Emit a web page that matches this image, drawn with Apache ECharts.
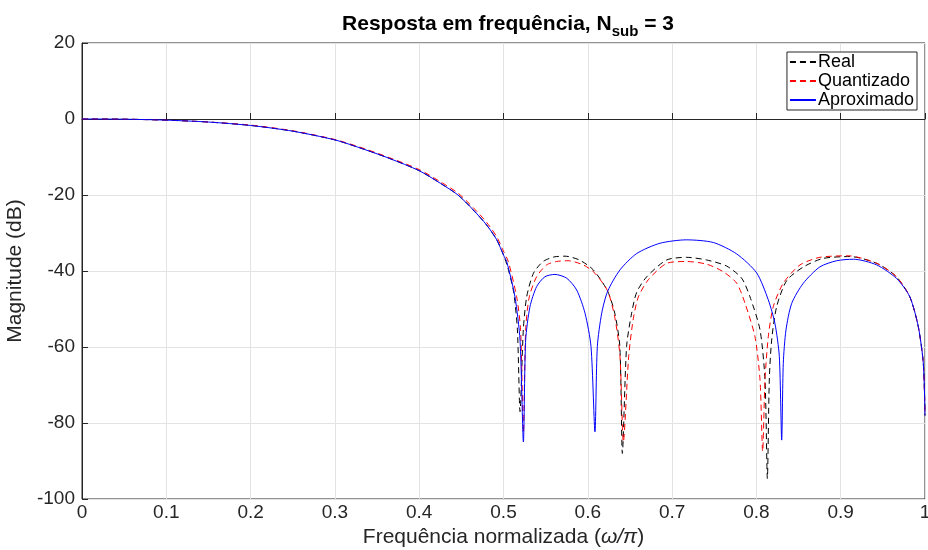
<!DOCTYPE html>
<html>
<head>
<meta charset="utf-8">
<script src="https://cdn.jsdelivr.net/npm/echarts@6/dist/echarts.min.js"></script>
<style>
  html, body { margin: 0; padding: 0; background: #fff; }
  #chart { width: 928px; height: 550px; }
</style>
</head>
<body>
<div id="chart"></div>
<script>
// eixo x: frequencia normalizada (w/pi), eixo y: magnitude em dB
const freqReal = [0, 0.05, 0.1, 0.15, 0.2, 0.25, 0.3, 0.335, 0.365, 0.4, 0.425, 0.446, 0.464, 0.48, 0.492, 0.5, 0.505, 0.512, 0.5165, 0.5196, 0.5235, 0.5275, 0.5355, 0.547, 0.56, 0.573, 0.59, 0.6065, 0.6235, 0.632, 0.638, 0.641, 0.646, 0.652, 0.658, 0.67, 0.6935, 0.717, 0.741, 0.7647, 0.7825, 0.7924, 0.8043, 0.8102, 0.813, 0.8153, 0.8181, 0.824, 0.836, 0.856, 0.879, 0.911, 0.943, 0.966, 0.982, 0.992, 0.998, 1.0];
const magReal = [0, -0.05, -0.3, -0.8, -1.7, -3.2, -5.5, -8.0, -10.4, -13.6, -16.9, -20.0, -23.9, -27.9, -31.8, -35.8, -39, -45.5, -55.5, -77, -55.5, -46.8, -40.6, -37.5, -36.3, -36.1, -37.1, -39.7, -45.3, -51.1, -59.9, -88, -59.9, -51.1, -45.6, -41.5, -37.1, -36.4, -37.1, -38.7, -41.9, -46.8, -55.5, -68.7, -94.6, -68.7, -58.2, -49.4, -42.5, -38.9, -36.7, -36.2, -38, -41.5, -46.8, -54.6, -64.3, -78];

const freqQuant = [0, 0.05, 0.1, 0.15, 0.2, 0.25, 0.3, 0.335, 0.365, 0.4, 0.425, 0.446, 0.464, 0.48, 0.492, 0.5, 0.5057, 0.5156, 0.5203, 0.5236, 0.5263, 0.5306, 0.5393, 0.5512, 0.563, 0.5765, 0.5947, 0.6085, 0.6236, 0.6323, 0.6382, 0.6422, 0.6485, 0.654, 0.66, 0.6718, 0.6935, 0.717, 0.741, 0.7607, 0.7766, 0.7865, 0.7983, 0.8043, 0.8074, 0.8102, 0.8141, 0.82, 0.8319, 0.8517, 0.8754, 0.909, 0.943, 0.966, 0.982, 0.992, 0.998, 1.0];
const magQuant = [0, -0.05, -0.3, -0.8, -1.6, -3.1, -5.4, -7.8, -10.2, -13.3, -16.5, -19.5, -23.3, -27.2, -31.0, -34.8, -37.5, -46.8, -55.5, -82.6, -55.5, -46.8, -41.5, -38.4, -37.5, -37.3, -38.4, -40.6, -45.3, -52.5, -62.5, -85, -62.5, -52.5, -46.8, -42.3, -38, -37.5, -38.2, -40.2, -43.2, -48.5, -57.3, -68.7, -87.5, -68.7, -57.3, -49.4, -43.2, -38.4, -36.4, -36, -38, -41.5, -46.8, -54.6, -64.3, -78];

const freqAprox = [0, 0.05, 0.1, 0.15, 0.2, 0.25, 0.3, 0.335, 0.365, 0.4, 0.425, 0.446, 0.464, 0.48, 0.492, 0.5, 0.5038, 0.5136, 0.5196, 0.5236, 0.5263, 0.5314, 0.5393, 0.5492, 0.561, 0.575, 0.5868, 0.5967, 0.6038, 0.6085, 0.6113, 0.6165, 0.6236, 0.6382, 0.658, 0.6856, 0.717, 0.7489, 0.7766, 0.8003, 0.8141, 0.822, 0.8272, 0.83, 0.8319, 0.8351, 0.8419, 0.8557, 0.8754, 0.8952, 0.915, 0.9427, 0.9664, 0.982, 0.992, 0.998, 1.0];
const magAprox = [0, -0.05, -0.3, -0.8, -1.7, -3.2, -5.5, -8.0, -10.4, -13.6, -16.9, -20.0, -23.9, -27.9, -31.8, -35.8, -37.5, -46.8, -58.2, -85, -58.2, -49.4, -44.1, -41.5, -40.9, -41.9, -45, -51.1, -59.9, -82.3, -59.9, -51.1, -45.3, -39.7, -35.4, -32.7, -31.8, -32.5, -35.5, -40.5, -47.6, -53.8, -62.5, -84.5, -64.3, -55.5, -48.5, -43.2, -38.9, -37.3, -36.9, -38.4, -42, -46.8, -54.6, -64.3, -78];

const xTicks = [0, 0.1, 0.2, 0.3, 0.4, 0.5, 0.6, 0.7, 0.8, 0.9, 1];
const yTicks = [20, 0, -20, -40, -60, -80, -100];

const seriesNames = ['Real', 'Quantizado', 'Aproximado'];

const font = '"Liberation Sans", Arial, Helvetica, sans-serif';
const axisColor = '#262626';

function pairs(xs, ys) {
  return xs.map((x, i) => [x, ys[i]]);
}

const chart = echarts.init(document.getElementById('chart'));

const option = {
  animation: false,
  backgroundColor: '#fff',
  textStyle: { fontFamily: font },
  title: {
    text: '{t|Resposta em frequência, N}{s|sub}{t| = 3}',
    left: 503,
    textAlign: 'center',
    top: 7,
    textStyle: {
      rich: {
        t: { fontFamily: font, fontSize: 21, fontWeight: 'bold', color: '#000', lineHeight: 24 },
        s: { fontFamily: font, fontSize: 15, fontWeight: 'bold', color: '#000', padding: [15, 0, 0, 0], lineHeight: 24 }
      }
    }
  },
  legend: {
    data: seriesNames,
    orient: 'vertical',
    right: 11,
    top: 52,
    itemWidth: 26,
    itemHeight: 18,
    itemGap: 1,
    padding: [1, 3, 1, 2],
    borderColor: axisColor,
    borderWidth: 1,
    backgroundColor: '#fff',
    borderRadius: 0,
    itemStyle: { opacity: 0 },
    textStyle: { fontFamily: font, fontSize: 18, color: '#000', padding: [0, 0, 0, -3] }
  },
  grid: {
    left: 82,
    right: 3,
    top: 43,
    bottom: 51,
    outerBoundsMode: 'none',
    show: true,
    borderColor: axisColor,
    borderWidth: 1
  },
  xAxis: {
    type: 'value',
    min: 0,
    max: 1,
    interval: 0.1,
    name: '{n|Frequência normalizada (}{i|ω/π}{n|)}',
    nameLocation: 'middle',
    nameGap: 28,
    nameMoveOverlap: false,
    nameTextStyle: {
      rich: {
        n: { fontFamily: font, fontSize: 21, color: axisColor },
        i: { fontFamily: font, fontSize: 21, color: axisColor, fontStyle: 'italic' }
      }
    },
    axisLine: { lineStyle: { color: axisColor } },
    axisTick: { inside: true, length: 6, lineStyle: { color: axisColor } },
    axisLabel: {
      fontFamily: font,
      fontSize: 19,
      color: axisColor,
      margin: 4,
      formatter: (v) => {
        const r = Math.round(v * 10) / 10;
        return xTicks.includes(r) ? String(r) : '';
      }
    },
    splitLine: { show: true, lineStyle: { color: '#e3e3e3' } }
  },
  yAxis: {
    type: 'value',
    min: -100,
    max: 20,
    interval: 20,
    name: 'Magnitude (dB)',
    nameLocation: 'middle',
    nameGap: 56,
    nameMoveOverlap: false,
    nameTextStyle: { fontFamily: font, fontSize: 21, color: axisColor },
    axisLine: { show: true, lineStyle: { color: axisColor } },
    axisTick: { show: true, inside: true, length: 6, lineStyle: { color: axisColor } },
    axisLabel: {
      fontFamily: font,
      fontSize: 19,
      color: axisColor,
      margin: 7,
      formatter: (v) => (yTicks.includes(v) ? String(v) : '')
    },
    splitLine: { show: true, lineStyle: { color: '#e3e3e3' } }
  },
  series: [
    {
      name: 'Real',
      type: 'line',
      data: pairs(freqReal, magReal),
      symbol: 'none',
      smooth: 0.25,
      color: '#000',
      lineStyle: { color: '#000', width: 1, type: [6, 4] },
      z: 3
    },
    {
      name: 'Quantizado',
      type: 'line',
      data: pairs(freqQuant, magQuant),
      symbol: 'none',
      smooth: 0.25,
      color: '#ff0000',
      lineStyle: { color: '#ff0000', width: 1, type: [6, 4] },
      z: 4
    },
    {
      name: 'Aproximado',
      type: 'line',
      data: pairs(freqAprox, magAprox),
      symbol: 'none',
      smooth: 0.25,
      color: '#0000ff',
      lineStyle: { color: '#0000ff', width: 1 },
      z: 5
    }
  ]
};

chart.setOption(option);
</script>
</body>
</html>
